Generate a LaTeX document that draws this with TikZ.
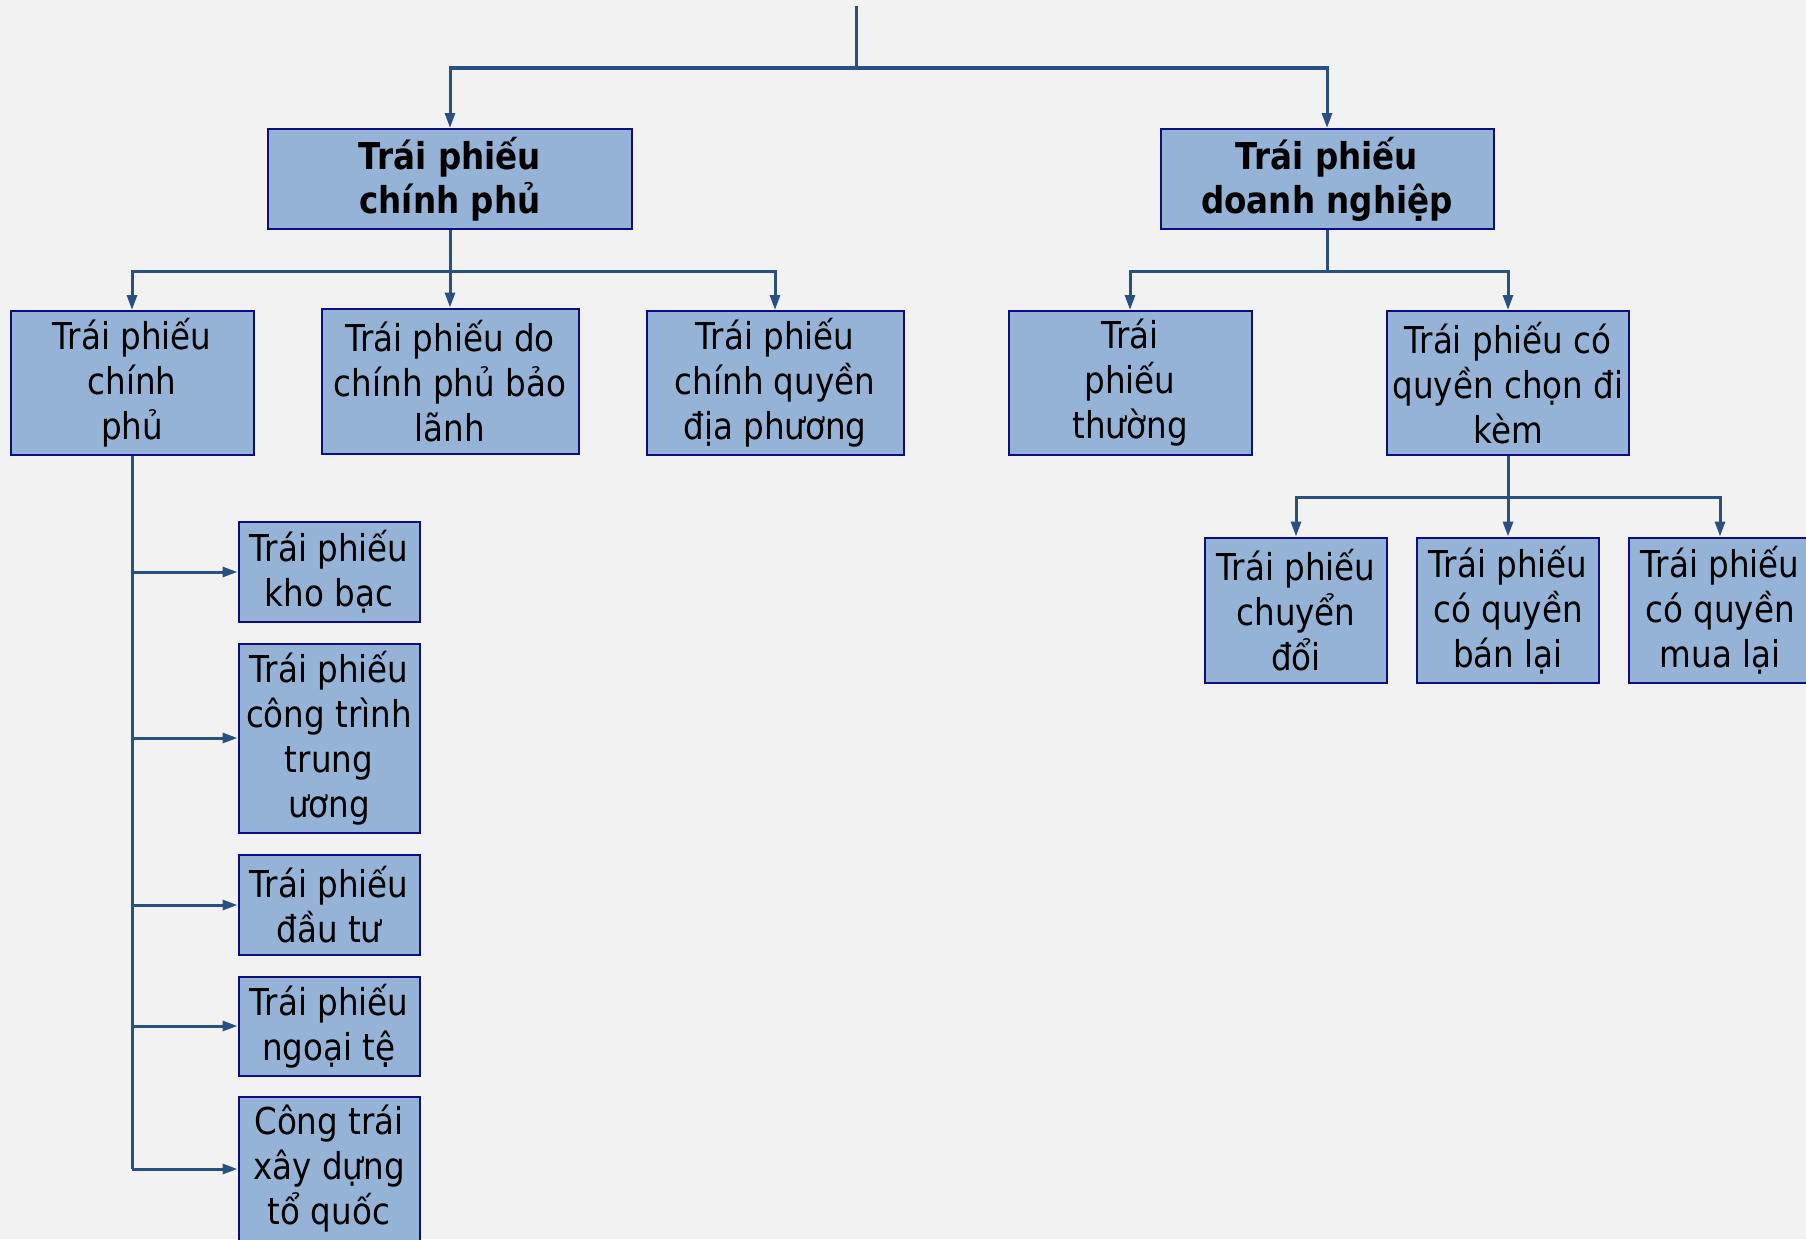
\documentclass[tikz,border=0pt]{standalone}
\usepackage{fontspec}
\setmainfont{DejaVu Sans}[FakeStretch=0.88]
\usepackage{tikz}
\usetikzlibrary{arrows.meta,positioning}
\usepackage{xcolor}
\definecolor{bgrey}{HTML}{F2F2F2}
\definecolor{boxblue}{HTML}{95B3D7}
\definecolor{boxline}{HTML}{0D0D80}
\definecolor{linkblue}{HTML}{2A5082}

\begin{document}
\begin{tikzpicture}[
  x=1pt, y=-1pt,
  box/.style={draw=boxline, line width=2pt, fill=boxblue, inner sep=0pt, align=center,
    font=\fontsize{37}{45}\selectfont},
  head/.style={box, font=\fontsize{37}{44}\selectfont\bfseries},
  link/.style={draw=linkblue, line width=3pt},
  arr/.style={link, -{Triangle[length=15pt, width=10pt]}},
]
  \useasboundingbox (0,0) rectangle (1806,1239);
  \clip (0,0) rectangle (1806,1239);
  \fill[bgrey] (0,0) rectangle (1806,1239);

  \node[head, minimum width=364pt, minimum height=100pt] (gov) at (450,179) {Trái phiếu\\chính phủ};
  \node[head, minimum width=333pt, minimum height=100pt] (corp) at (1327,179) {Trái phiếu\\doanh nghiệp};

  \node[box, minimum width=243pt, minimum height=144pt] (govA) at (132,383) {Trái phiếu\\chính\\phủ};
  \node[box, minimum width=257pt, minimum height=145pt] (govB) at (450,381) {Trái phiếu do\\chính phủ bảo\\lãnh};
  \node[box, minimum width=257pt, minimum height=144pt] (govC) at (775,383) {Trái phiếu\\chính quyền\\địa phương};
  \node[box, minimum width=243pt, minimum height=144pt] (corpA) at (1130,383) {Trái\\phiếu\\thường};
  \node[box, minimum width=242pt, minimum height=144pt] (corpB) at (1508,383) {Trái phiếu có\\quyền chọn đi\\kèm};

  % Options
  \node[box, minimum width=182pt, minimum height=145pt] (optA) at (1296,610) {Trái phiếu\\chuyển\\đổi};
  \node[box, minimum width=182pt, minimum height=145pt] (optB) at (1508,610) {Trái phiếu\\có quyền\\bán lại};
  \node[box, minimum width=182pt, minimum height=145pt] (optC) at (1720,610) {Trái phiếu\\có quyền\\mua lại};

  % Government bond kinds
  \node[box, minimum width=181pt, minimum height=100pt] (treas) at (329,572) {Trái phiếu\\kho bạc};
  \node[box, minimum width=181pt, minimum height=189pt] (works) at (329,738) {Trái phiếu\\công trình\\trung\\ương};
  \node[box, minimum width=181pt, minimum height=100pt] (invest) at (329,905) {Trái phiếu\\đầu tư};
  \node[box, minimum width=181pt, minimum height=99pt] (forex) at (329,1026) {Trái phiếu\\ngoại tệ};
  \node[box, minimum width=181pt, minimum height=144pt] (works2) at (329,1169) {Công trái\\xây dựng\\tổ quốc};

  \coordinate (root) at (856,6);
  \coordinate (split) at (856,68);
  \draw[link] (root) -- (split);
  \draw[arr] (split) -| (gov.north);
  \draw[arr] (split) -| (corp.north);

  \draw[arr] (gov.south) -- (govB.north);
  \draw[arr] (gov.south) -- ++(0,41) -| (govA.north);
  \draw[arr] (gov.south) -- ++(0,41) -| (govC.north);
  \draw[arr] (corp.south) -- ++(0,41) -| (corpA.north);
  \draw[arr] (corp.south) -- ++(0,41) -| (corpB.north);

  \draw[arr] (corpB.south) -- (optB.north);
  \draw[arr] (corpB.south) -- ++(0,41) -| (optA.north);
  \draw[arr] (corpB.south) -- ++(0,41) -| (optC.north);

  \draw[link] (govA.south) -- (govA.south |- works2.west);
  \foreach \kind in {treas,works,invest,forex,works2}
    \draw[arr] (govA.south |- \kind.west) -- (\kind.west);
\end{tikzpicture}
\end{document}
